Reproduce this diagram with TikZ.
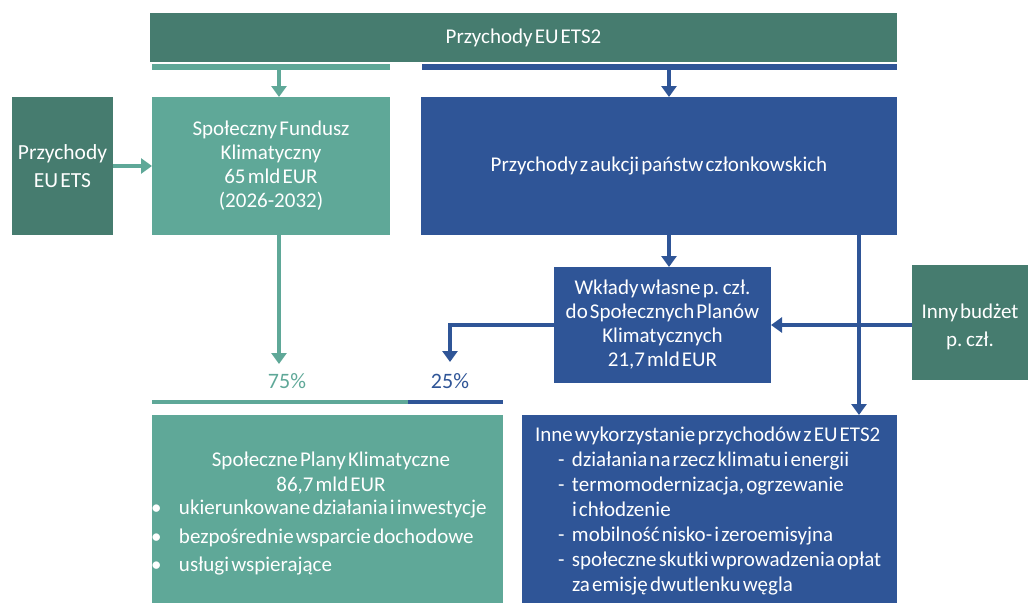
\documentclass[tikz,border=0pt]{standalone}
\usepackage{fontspec}
\setmainfont{Carlito}[WordSpace=0.45]
\usetikzlibrary{arrows.meta,calc}
\definecolor{dteal}{HTML}{467C6F}
\definecolor{lteal}{HTML}{5FA898}
\definecolor{eblue}{HTML}{2F5597}
\begin{document}
\begin{tikzpicture}[x=1pt,y=-1pt,
  box/.style={draw=none,inner sep=0pt,outer sep=0pt,text=white,align=center,anchor=north west,font=\fontsize{21}{24}\selectfont},
  txt/.style={inner sep=0pt,outer sep=0pt,text=white,font=\fontsize{21}{24}\selectfont},
  arr/.style={line width=4pt,-{Triangle[width=15pt,length=11pt]}},
  strip/.style={draw=none,inner sep=0pt,outer sep=0pt,anchor=north west,minimum height=6pt}]
\useasboundingbox (0,0) rectangle (1028,603);
\coordinate (c279) at (279,0);
\coordinate (c669) at (669,0);
\coordinate (c859) at (859,0);
\coordinate (r325) at (0,325);
\coordinate (c25) at (450,362);
\coordinate (c75) at (279,364);
% top
\node[box,fill=dteal,minimum width=747pt,minimum height=49pt] (top) at (150,13) {Przychody EU ETS2};
\node[strip,fill=lteal,minimum width=238pt] (stripL) at (152,64) {};
\node[strip,fill=eblue,minimum width=475pt] (stripB) at (422,64) {};
% row 2
\node[box,fill=dteal,minimum width=101pt,minimum height=138pt,font=\fontsize{21.5}{28.5}\selectfont] (ets) at (12,97) {Przychody\\EU ETS};
\node[box,fill=lteal,minimum width=238pt,minimum height=138pt] (fund) at (152,97) {Społeczny Fundusz\\Klimatyczny\\65 mld EUR\\(2026-2032)};
\node[box,fill=eblue,minimum width=476pt,minimum height=138pt] (auk) at (421,97) {Przychody z aukcji państw członkowskich};
% row 3
\node[box,fill=eblue,minimum width=217pt,minimum height=116pt] (wkl) at (554,267) {Wkłady własne p. czł.\\do Społecznych Planów\\Klimatycznych\\21,7 mld EUR};
\node[box,fill=dteal,minimum width=116pt,minimum height=115pt] (inny) at (912,265) {};
\node[txt,align=center,font=\fontsize{21}{28}\selectfont] (innyt) at ($(inny.center)+(0,4)$) {Inny budżet\\p. czł.};
% percent labels
\node[txt,text=lteal,font=\fontsize{22}{22}\selectfont] (p75) at (287,381) {75\%};
\node[txt,text=eblue,font=\fontsize{22}{22}\selectfont] (p25) at (450,381) {25\%};
\draw[lteal,line width=4.5pt] (152,402) -- (408,402);
\draw[eblue,line width=4.5pt] (408,402) -- (503,402);
% bottom boxes
\node[box,fill=lteal,minimum width=351pt,minimum height=188pt] (spk) at (152,415) {};
\node[txt,anchor=north,align=center,font=\fontsize{21}{25}\selectfont] (spkt) at (331,452) {Społeczne Plany Klimatyczne\\86,7 mld EUR};
\node[txt,anchor=north west,align=left,font=\fontsize{21}{28.5}\selectfont] (spkl) at (151,500) {\makebox[28pt][l]{•}ukierunkowane działania i inwestycje\\\makebox[28pt][l]{•}bezpośrednie wsparcie dochodowe\\\makebox[28pt][l]{•}usługi wspierające};
\node[box,fill=eblue,minimum width=375pt,minimum height=188pt] (inne) at (522,415) {};
\node[txt,anchor=north west,align=left,font=\fontsize{21}{25}\selectfont] (innet) at (535,427) {Inne wykorzystanie przychodów z EU ETS2\\
\hspace*{23pt}\makebox[14pt][l]{-}działania na rzecz klimatu i energii\\
\hspace*{23pt}\makebox[14pt][l]{-}termomodernizacja, ogrzewanie\\
\hspace*{37pt}i chłodzenie\\
\hspace*{23pt}\makebox[14pt][l]{-}mobilność nisko- i zeroemisyjna\\
\hspace*{23pt}\makebox[14pt][l]{-}społeczne skutki wprowadzenia opłat\\
\hspace*{37pt}za emisję dwutlenku węgla};
% connectors
\draw[arr,lteal] (stripL.south -| c279) -- (fund.north -| c279);
\draw[arr,eblue] (stripB.south -| c669) -- (auk.north -| c669);
\draw[arr,lteal] (ets.east) -- (fund.west);
\draw[arr,eblue] (auk.south -| c669) -- (wkl.north -| c669);
\draw[arr,eblue] (auk.south -| c859) -- (inne.north -| c859);
\draw[arr,eblue] (inny.west |- r325) -- (wkl.east |- r325);
\draw[arr,eblue] (wkl.west |- r325) -| (c25);
\draw[arr,lteal] (fund.south -| c279) -- (c75);
\end{tikzpicture}
\end{document}
